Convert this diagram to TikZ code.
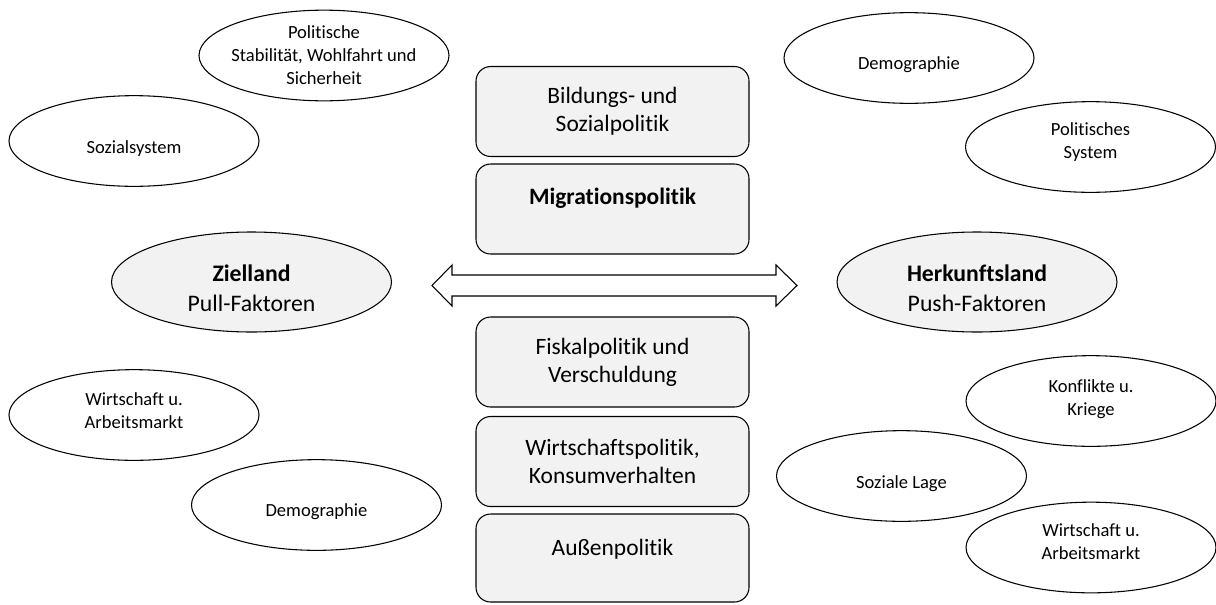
\documentclass[tikz,border=0pt]{standalone}
\usepackage{fontspec}
\setmainfont{Carlito}[Ligatures=NoCommon]
\usetikzlibrary{shapes.geometric}
\definecolor{boxgray}{HTML}{F2F2F2}
\begin{document}
\begin{tikzpicture}[x=0.75pt,y=-0.75pt,
  every node/.style={inner sep=0pt, outer sep=0pt},
  polbox/.style={draw, line width=0.8pt, rounded corners=11pt, fill=boxgray,
    minimum width=204.75pt, minimum height=67.5pt, align=center,
    font=\fontsize{17.6}{21}\selectfont},
  smallell/.style={ellipse, draw, line width=0.8pt, fill=white,
    minimum width=187.5pt, minimum height=68pt},
  bigell/.style={ellipse, draw, line width=0.8pt, fill=boxgray,
    minimum width=210pt, minimum height=75pt},
  stxt/.style={align=center, font=\fontsize{13.9}{17.2}\selectfont},
  btxt/.style={align=center, font=\fontsize{17.8}{22.5}\selectfont},
  arrowshape/.style={draw, line width=0.8pt, fill=white, line join=miter}
]
\useasboundingbox (0,0) rectangle (1216,604);

% central boxes
\node[polbox] (b1) at (612.5,111.5) {Bildungs- und\\Sozialpolitik};
\node[polbox] (b2) at (612.5,209) {\textbf{Migrationspolitik}\\[-7.5pt]\strut};
\node[polbox] (b3) at (612.5,362) {Fiskalpolitik und\\Verschuldung};
\node[polbox] (b4) at (612.5,461.5) {Wirtschaftspolitik,\\Konsumverhalten};
\node[polbox, minimum height=66pt] (b5) at (612.5,558) {Außenpolitik\\[-12pt]\strut};

% left ellipses
\node[smallell, label={[stxt]center:Politische\\Stabilität, Wohlfahrt und\\Sicherheit}] (pol) at (324,55.5) {};
\node[smallell, label={[stxt,yshift=-6pt]center:Sozialsystem}] (soz) at (134,141) {};
\node[bigell, label={[btxt,yshift=-4.9pt]center:\textbf{Zielland}\\Pull-Faktoren}] (ziel) at (251.5,282) {};
\node[smallell, label={[stxt,yshift=3pt]center:Wirtschaft u.\\Arbeitsmarkt}] (wl) at (134,415) {};
\node[smallell, label={[stxt,yshift=-5.2pt]center:Demographie}] (dl) at (316.5,505) {};

% right ellipses
\node[smallell, label={[stxt,yshift=-5.2pt]center:Demographie}] (dr) at (909,58) {};
\node[smallell, label={[stxt,yshift=3.4pt]center:Politisches\\System}] (ps) at (1090.5,147) {};
\node[bigell, label={[btxt,yshift=-4.9pt]center:\textbf{Herkunftsland}\\Push-Faktoren}] (herk) at (977,282) {};
\node[smallell, label={[stxt,yshift=1.5pt]center:Konflikte u.\\Kriege}] (kk) at (1091,401) {};
\node[smallell, label={[stxt,yshift=-6pt]center:Soziale Lage}] (sl) at (901.5,476) {};
\node[smallell, label={[stxt,yshift=4.5pt]center:Wirtschaft u.\\Arbeitsmarkt}] (wr) at (1091,547.5) {};

% double arrow
\coordinate (al) at (432,285.5);
\coordinate (ar) at (797,285.5);
\draw[arrowshape] (al) -- (452,265) -- (452,275) -- (776,275) -- (776,265) -- (ar)
  -- (776,306) -- (776,296) -- (452,296) -- (452,306) -- cycle;
\end{tikzpicture}
\end{document}
